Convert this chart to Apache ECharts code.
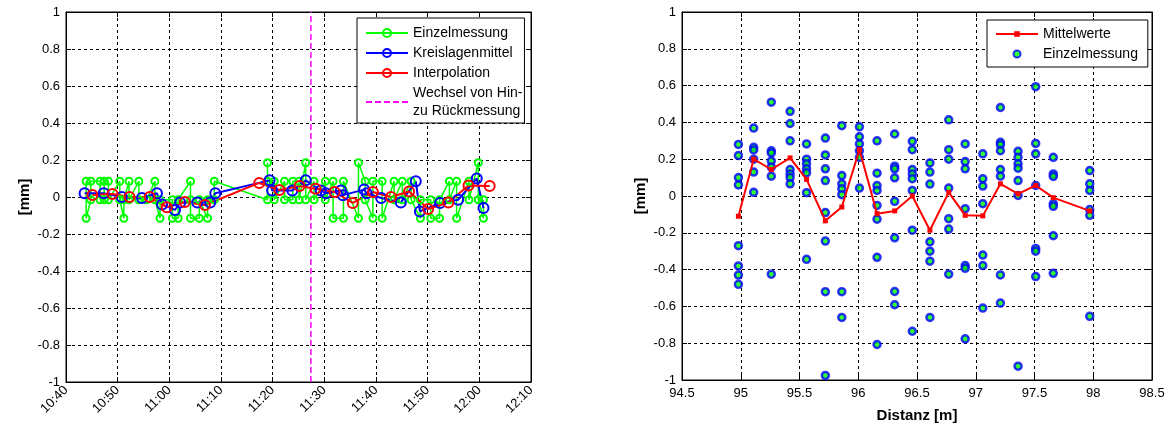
<!DOCTYPE html>
<html>
<head>
<meta charset="utf-8">
<script src="https://cdn.jsdelivr.net/npm/echarts@6/dist/echarts.min.js"></script>
<style>
  html, body { margin: 0; padding: 0; background: #fff; }
  #chart { width: 1168px; height: 428px; }
</style>
</head>
<body>
<div id="chart"></div>
<script>
// ---- Zeitreihe (links) ----
const timeTicks = ['10:40', '10:50', '11:00', '11:10', '11:20', '11:30', '11:40', '11:50', '12:00', '12:10'];

// Einzelmessungen [mm]
const einzelZeit = [
  '10:43:54', '10:43:54', '10:44:48', '10:44:48', '10:46:36', '10:46:36', '10:47:24', '10:47:24',
  '10:48:12', '10:48:12', '10:50:24', '10:50:24', '10:51:12', '10:51:12', '10:52:12', '10:52:12',
  '10:54:06', '10:54:06', '10:55:36', '10:57:12', '10:57:12', '10:58:12', '10:58:12', '11:00:36',
  '11:00:36', '11:01:42', '11:01:42', '11:04:06', '11:04:06', '11:04:06', '11:05:48', '11:05:48',
  '11:07:24', '11:07:24', '11:08:42', '11:08:42', '11:19:00', '11:19:00', '11:19:00', '11:20:18',
  '11:20:18', '11:22:18', '11:22:18', '11:23:54', '11:23:54', '11:25:06', '11:25:06', '11:26:24',
  '11:26:24', '11:28:00', '11:28:00', '11:30:12', '11:30:12', '11:31:42', '11:31:42', '11:33:42',
  '11:33:42', '11:36:36', '11:36:36', '11:37:54', '11:37:54', '11:39:24', '11:39:24', '11:41:12',
  '11:41:12', '11:43:30', '11:43:30', '11:45:06', '11:45:06', '11:46:48', '11:46:48', '11:48:36',
  '11:48:36', '11:50:36', '11:50:36', '11:52:18', '11:52:18', '11:54:12', '11:54:12', '11:55:36',
  '11:55:36', '11:58:00', '11:58:00', '11:59:48', '11:59:48', '12:00:48', '12:00:48'
];
const einzelWert = [
  0.085, -0.115, -0.015, 0.085, 0.085, -0.015, -0.015, 0.085,
  0.085, -0.015, 0.085, -0.015, -0.115, -0.015, 0.085, -0.015,
  0.085, -0.015, -0.015, 0.085, -0.015, -0.115, -0.015, -0.015,
  -0.115, -0.115, -0.015, 0.085, -0.015, -0.115, -0.115, -0.015,
  -0.115, -0.015, -0.015, 0.085, -0.015, 0.185, 0.085, 0.085,
  -0.015, 0.085, -0.015, -0.015, 0.085, 0.085, -0.015, 0.185,
  -0.015, 0.085, -0.015, 0.085, -0.015, 0.085, -0.115, -0.115,
  0.085, -0.115, 0.185, 0.085, -0.015, -0.115, 0.085, 0.085,
  -0.115, 0.085, -0.015, 0.085, -0.015, 0.085, -0.015, -0.115,
  -0.015, -0.015, -0.115, -0.115, -0.015, 0.085, -0.015, 0.085,
  -0.115, 0.085, -0.015, 0.185, -0.015, -0.115, -0.015
];

// Kreislagenmittel [mm]
const kreisZeit = [
  '10:43:36', '10:47:18', '10:50:48', '10:54:42', '10:57:36', '10:58:36', '11:01:06', '11:02:06',
  '11:05:24', '11:07:54', '11:08:54', '11:19:24', '11:19:54', '11:23:48', '11:26:24', '11:29:18',
  '11:30:18', '11:33:12', '11:33:36', '11:37:42', '11:38:12', '11:41:00', '11:44:48', '11:47:42',
  '11:48:30', '11:52:24', '11:55:54', '11:59:30', '12:00:48'
];
const kreisWert = [
  0.02, 0.02, 0.0, -0.005, 0.02, -0.04, -0.07, -0.03,
  -0.03, -0.03, 0.02, 0.09, 0.035, 0.035, 0.09, 0.035,
  0.02, 0.035, 0.01, 0.04, 0.02, -0.005, -0.03, 0.085,
  -0.078, -0.032, -0.015, 0.1, -0.06
];

// Interpolation [mm]
const interpZeit = [
  '10:45:06', '10:49:00', '10:52:18', '10:56:12', '10:59:30', '11:03:00', '11:06:54', '11:17:24',
  '11:21:18', '11:25:12', '11:28:18', '11:32:00', '11:35:30', '11:39:24', '11:42:54', '11:46:24',
  '11:50:06', '11:54:00', '11:57:54', '12:02:00'
];
const interpWert = [
  0.011, 0.016, 0.0, 0.0, -0.055, -0.027, -0.043, 0.076,
  0.038, 0.06, 0.045, 0.027, -0.032, 0.027, 0.0, 0.03,
  -0.065, -0.03, 0.062, 0.06
];

// Wechsel von Hin- zu Rückmessung
const wechselZeit = '11:27:24';

// ---- Distanz (rechts) ----
const distanzTicks = [94.5, 95, 95.5, 96, 96.5, 97, 97.5, 98, 98.5];
const distanz = [
  94.98, 95.11, 95.26, 95.42, 95.56, 95.72, 95.86, 96.01, 96.16, 96.31,
  96.46, 96.61, 96.77, 96.91, 97.06, 97.21, 97.36, 97.51, 97.66, 97.97
];
const mittelwerte = [
  -0.11, 0.2, 0.144, 0.207, 0.09, -0.135, -0.06, 0.252, -0.096, -0.081,
  0.0, -0.186, 0.02, -0.105, -0.108, 0.066, 0.012, 0.057, -0.009, -0.081
];
// Einzelmessungen je Distanz [mm]
const einzelJeDistanz = [
  [0.28, 0.22, 0.10, 0.06, -0.27, -0.38, -0.43, -0.48],
  [0.369, 0.265, 0.25, 0.2, 0.13, 0.02],
  [0.51, 0.246, 0.234, 0.19, 0.157, 0.108, -0.425],
  [0.46, 0.394, 0.30, 0.144, 0.12, 0.10, 0.066],
  [0.283, 0.2, 0.175, 0.148, 0.126, 0.018, -0.344],
  [0.315, 0.223, 0.148, 0.084, -0.09, -0.245, -0.52, -0.975],
  [0.382, 0.111, 0.066, 0.039, 0.007, -0.52, -0.66],
  [0.376, 0.322, 0.283, 0.246, 0.21, 0.043],
  [0.30, 0.124, 0.057, 0.03, -0.051, -0.126, -0.333, -0.807],
  [0.337, 0.162, 0.148, 0.099, -0.029, -0.227, -0.519, -0.591],
  [0.297, 0.252, 0.144, 0.12, 0.094, 0.03, -0.186, -0.735],
  [0.18, 0.13, 0.065, -0.249, -0.3, -0.354, -0.66],
  [0.414, 0.252, 0.2, 0.043, -0.123, -0.18, -0.425],
  [0.283, 0.187, 0.148, -0.069, -0.378, -0.393, -0.776],
  [0.229, 0.094, 0.054, -0.042, -0.321, -0.378, -0.609],
  [0.481, 0.292, 0.279, 0.246, 0.144, 0.108, -0.429, -0.582],
  [0.243, 0.21, 0.175, 0.151, 0.084, 0.003, -0.925],
  [0.594, 0.286, 0.229, 0.057, -0.285, -0.3, -0.438],
  [0.21, 0.12, 0.106, -0.042, -0.056, -0.216, -0.42],
  [0.138, 0.066, 0.03, -0.074, -0.105, -0.654]
];

// ---- helpers ----
const START = 10 * 60 + 40;
function toMin(s) {
  const p = s.split(':').map(Number);
  return p[0] * 60 + p[1] + (p[2] || 0) / 60 - START;
}
function pairs(times, vals) {
  return times.map((t, i) => [toMin(t), vals[i]]);
}
const FONT = 'Liberation Sans, Arial, Helvetica, sans-serif';
const CLEAR = 'rgba(0,0,0,0)';

const wechselX = toMin(wechselZeit);
const scatterData = [];
einzelJeDistanz.forEach((col, i) => col.forEach(v => scatterData.push([distanz[i], v])));

const gridLine = { show: true, lineStyle: { color: '#000', type: [3, 3], width: 1 } };
const axLine = { show: true, onZero: false, lineStyle: { color: '#000', width: 1 } };
const tick = { show: true, inside: true, length: 5, lineStyle: { color: '#000' } };
const lbl = { color: '#000', fontFamily: FONT, fontSize: 13 };

function yAxes(gridIndex) {
  return [
    {
      type: 'value', gridIndex, min: -1, max: 1, interval: 0.2,
      axisLine: axLine, axisTick: tick, splitLine: gridLine,
      axisLabel: Object.assign({ margin: 6 }, lbl),
      name: '[mm]', nameLocation: 'middle', nameGap: 34, nameRotate: 90,
      nameTextStyle: { color: '#000', fontFamily: FONT, fontSize: 15, fontWeight: 'bold' }
    },
    {
      type: 'value', gridIndex, min: -1, max: 1, interval: 0.2, position: 'right',
      axisLine: axLine, axisTick: tick, splitLine: { show: false }, axisLabel: { show: false }
    }
  ];
}

const option = {
  animation: false,
  backgroundColor: '#fff',
  textStyle: { fontFamily: FONT },
  grid: [
    { left: 66, right: 637, top: 12, bottom: 46, show: true, borderColor: '#000', borderWidth: 1, backgroundColor: '#fff' },
    { left: 682, right: 16, top: 12, bottom: 46, show: true, borderColor: '#000', borderWidth: 1, backgroundColor: '#fff' }
  ],
  xAxis: [
    {
      type: 'value', gridIndex: 0, min: 0, max: 90, interval: 10,
      axisLine: axLine, axisTick: tick, splitLine: gridLine,
      axisLabel: Object.assign({ rotate: 45, margin: 6, formatter: v => timeTicks[Math.round(v / 10)] }, lbl)
    },
    {
      type: 'value', gridIndex: 0, min: 0, max: 90, interval: 10, position: 'top',
      axisLine: axLine, axisTick: tick, splitLine: { show: false }, axisLabel: { show: false }
    },
    {
      type: 'value', gridIndex: 1, min: 94.5, max: 98.5, interval: 0.5,
      axisLine: axLine, axisTick: tick, splitLine: gridLine,
      axisLabel: Object.assign({ margin: 7, formatter: v => String(distanzTicks[Math.round((v - 94.5) / 0.5)]) }, lbl),
      name: 'Distanz [m]', nameLocation: 'middle', nameGap: 28,
      nameTextStyle: { color: '#000', fontFamily: FONT, fontSize: 15, fontWeight: 'bold' }
    },
    {
      type: 'value', gridIndex: 1, min: 94.5, max: 98.5, interval: 0.5, position: 'top',
      axisLine: axLine, axisTick: tick, splitLine: { show: false }, axisLabel: { show: false }
    }
  ],
  yAxis: yAxes(0).concat(yAxes(1)),
  legend: [
    {
      left: 357, top: 18, orient: 'vertical', selectedMode: false,
      backgroundColor: '#fff', borderColor: '#000', borderWidth: 1, borderRadius: 0,
      padding: [6, 2, 3, 8], itemGap: 2, itemWidth: 42, itemHeight: 10,
      textStyle: { color: '#000', fontFamily: FONT, fontSize: 14, lineHeight: 18 },
      data: ['Einzelmessung', 'Kreislagenmittel', 'Interpolation', 'Wechsel von Hin-\nzu Rückmessung']
    },
    {
      left: 987, top: 20, orient: 'vertical', selectedMode: false,
      backgroundColor: '#fff', borderColor: '#000', borderWidth: 1, borderRadius: 0,
      padding: [5, 6, 4, 8], itemGap: 2, itemWidth: 42, itemHeight: 7,
      textStyle: { color: '#000', fontFamily: FONT, fontSize: 14, lineHeight: 18 },
      data: ['Mittelwerte', 'Einzelmessung ']
    }
  ],
  series: [
    {
      name: 'Einzelmessung', type: 'line', xAxisIndex: 0, yAxisIndex: 0,
      data: pairs(einzelZeit, einzelWert),
      symbol: 'circle', symbolSize: 7,
      lineStyle: { color: '#00ff00', width: 1.5 },
      itemStyle: { color: CLEAR, borderColor: '#00ff00', borderWidth: 2 }
    },
    {
      name: 'Kreislagenmittel', type: 'line', xAxisIndex: 0, yAxisIndex: 0,
      data: pairs(kreisZeit, kreisWert),
      symbol: 'circle', symbolSize: 10,
      lineStyle: { color: '#0000ff', width: 2 },
      itemStyle: { color: CLEAR, borderColor: '#0000ff', borderWidth: 2 }
    },
    {
      name: 'Interpolation', type: 'line', xAxisIndex: 0, yAxisIndex: 0,
      data: pairs(interpZeit, interpWert),
      symbol: 'circle', symbolSize: 10,
      lineStyle: { color: '#ff0000', width: 2 },
      itemStyle: { color: CLEAR, borderColor: '#ff0000', borderWidth: 2 }
    },
    {
      name: 'Wechsel von Hin-\nzu Rückmessung', type: 'line', xAxisIndex: 0, yAxisIndex: 0,
      data: [[wechselX, -1], [wechselX, 1]],
      symbol: 'none',
      lineStyle: { color: '#ff00ff', width: 1.5, type: [6, 3] },
      itemStyle: { color: CLEAR, borderColor: CLEAR, borderWidth: 0 }
    },
    {
      name: 'Mittelwerte', type: 'line', xAxisIndex: 2, yAxisIndex: 2,
      data: distanz.map((d, i) => [d, mittelwerte[i]]),
      symbol: 'rect', symbolSize: 5, z: 3,
      lineStyle: { color: '#ff0000', width: 2 },
      itemStyle: { color: '#ff0000' }
    },
    {
      name: 'Einzelmessung ', type: 'scatter', xAxisIndex: 2, yAxisIndex: 2,
      data: scatterData,
      symbol: 'circle', symbolSize: 7, z: 2,
      itemStyle: { color: '#00ff00', borderColor: '#0000ff', borderWidth: 2.5 }
    }
  ]
};

echarts.init(document.getElementById('chart'), null, { renderer: 'canvas' }).setOption(option);
</script>
</body>
</html>
